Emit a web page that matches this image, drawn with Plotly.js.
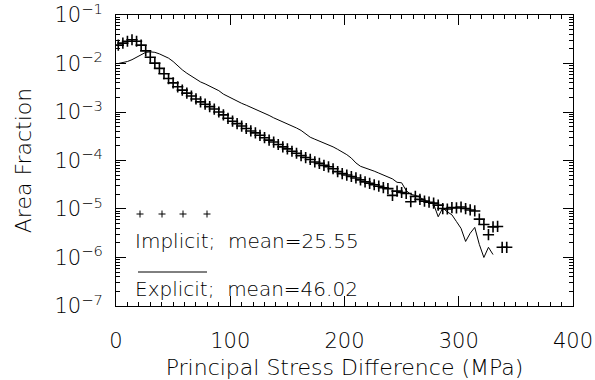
<!DOCTYPE html>
<html>
<head>
<meta charset="utf-8">
<script src="https://cdn.plot.ly/plotly-3.0.1.min.js"></script>
<style>html,body{margin:0;padding:0;background:#fff;}#chart{width:595px;height:380px;}</style>
</head>
<body>
<div id="chart"></div>
<script>
// Principal stress difference bin centres (MPa)
const xImplicit = [2,6,10,14,18,22,26,30,34,38,42,46,50,54,58,62,66,70,74,78,82,86,90,94,98,102,106,110,114,118,122,126,130,134,138,142,146,150,154,158,162,166,170,174,178,182,186,190,194,198,202,206,210,214,218,222,226,230,234,238,242,246,250,254,258,262,266,270,274,278,282,286,290,294,298,302,306,310,314,318,322,326,330,334,338,342];
const yImplicit = [2.40e-2,2.63e-2,2.88e-2,3.09e-2,2.88e-2,2.40e-2,1.82e-2,1.35e-2,1.02e-2,7.94e-3,6.17e-3,4.90e-3,3.98e-3,3.31e-3,2.82e-3,2.45e-3,2.14e-3,1.86e-3,1.62e-3,1.45e-3,1.29e-3,1.15e-3,1.00e-3,8.71e-4,7.41e-4,6.46e-4,5.75e-4,5.13e-4,4.57e-4,4.07e-4,3.72e-4,3.31e-4,2.95e-4,2.63e-4,2.40e-4,2.14e-4,1.91e-4,1.74e-4,1.55e-4,1.41e-4,1.26e-4,1.15e-4,1.05e-4,9.33e-5,8.71e-5,7.94e-5,7.41e-5,6.76e-5,5.89e-5,5.37e-5,5.01e-5,4.68e-5,4.37e-5,3.98e-5,3.63e-5,3.39e-5,3.16e-5,2.95e-5,2.75e-5,2.63e-5,1.91e-5,2.34e-5,2.19e-5,2.09e-5,1.41e-5,1.82e-5,1.58e-5,1.45e-5,1.38e-5,1.32e-5,1.20e-5,1.02e-5,1.00e-5,1.07e-5,1.05e-5,1.10e-5,1.02e-5,9.55e-6,9.12e-6,6.17e-6,4.79e-6,2.95e-6,4.27e-6,4.37e-6,1.62e-6,1.62e-6];

const xExplicit = [2,6,10,14,18,22,26,30,34,38,42,46,50,54,58,62,66,70,74,78,82,86,90,94,98,102,106,110,114,118,122,126,130,134,138,142,146,150,154,158,162,166,170,174,178,182,186,190,194,198,202,206,210,214,218,222,226,230,234,238,242,246,250,254,258,262,266,270,274,278,282,286,290,294,298,302,306,310,314,318,322,326,330];
const yExplicit = [1.00e-2,1.05e-2,1.10e-2,1.20e-2,1.35e-2,1.55e-2,1.70e-2,1.74e-2,1.70e-2,1.58e-2,1.45e-2,1.29e-2,1.10e-2,8.91e-3,7.41e-3,6.31e-3,5.50e-3,4.79e-3,4.17e-3,3.80e-3,3.39e-3,3.09e-3,2.75e-3,2.34e-3,2.09e-3,1.86e-3,1.66e-3,1.51e-3,1.38e-3,1.26e-3,1.15e-3,1.05e-3,9.33e-4,8.51e-4,7.59e-4,6.92e-4,6.17e-4,5.62e-4,5.13e-4,4.68e-4,4.17e-4,3.55e-4,3.02e-4,2.75e-4,2.51e-4,2.34e-4,2.14e-4,1.91e-4,1.70e-4,1.51e-4,1.32e-4,1.12e-4,8.91e-5,7.59e-5,7.08e-5,6.61e-5,6.03e-5,5.50e-5,5.01e-5,4.57e-5,4.17e-5,3.55e-5,3.47e-5,2.40e-5,2.00e-5,1.91e-5,1.74e-5,1.51e-5,1.38e-5,1.26e-5,6.92e-6,1.05e-5,8.71e-6,7.59e-6,5.50e-6,3.98e-6,2.14e-6,3.16e-6,4.17e-6,1.86e-6,1.00e-6,1.62e-6,1.15e-6];

const xTickVals = [0,100,200,300,400];
const xTickText = ['0','100','200','300','400'];
const yTickVals = [1e-7,1e-6,1e-5,1e-4,1e-3,1e-2,1e-1];
const yExponents = ['−7','−6','−5','−4','−3','−2','−1'];
const yMinorTicks = [2e-7,3e-7,4e-7,5e-7,6e-7,7e-7,8e-7,9e-7,2e-6,3e-6,4e-6,5e-6,6e-6,7e-6,8e-6,9e-6,2e-5,3e-5,4e-5,5e-5,6e-5,7e-5,8e-5,9e-5,2e-4,3e-4,4e-4,5e-4,6e-4,7e-4,8e-4,9e-4,2e-3,3e-3,4e-3,5e-3,6e-3,7e-3,8e-3,9e-3,2e-2,3e-2,4e-2,5e-2,6e-2,7e-2,8e-2,9e-2];

const labelImplicit = 'Implicit;  mean=25.55';
const labelExplicit = 'Explicit;  mean=46.02';

const FONT = 'DejaVu Sans, sans-serif';
const INK = '#000';
const yTickText = yExponents.map(e => '10<sup>' + e + '</sup>');

const traces = [
  {x: xExplicit, y: yExplicit, type: 'scatter', mode: 'lines',
   line: {color: '#000', width: 1}, showlegend: false},
  {x: xImplicit, y: yImplicit, type: 'scatter', mode: 'markers',
   marker: {symbol: 'cross-thin', size: 8, color: '#000', line: {color: '#000', width: 1.6}},
   showlegend: false}
];

// legend sample glyphs in paper coordinates
const W = 457, H = 291;
function plusPath(px, py, s){
  const cx = px / W, cy = py / H, dx = s / W, dy = s / H;
  return {type: 'path', xref: 'paper', yref: 'paper',
    path: `M${cx-dx},${cy} L${cx+dx},${cy} M${cx},${cy-dy} L${cx},${cy+dy}`,
    line: {color: '#000', width: 1}};
}
const shapes = [
  plusPath(24, 92, 3.5), plusPath(46, 92, 3.5), plusPath(67, 92, 3.5), plusPath(91, 92, 3.5),
  {type: 'line', xref: 'paper', yref: 'paper', x0: 22/W, x1: 91/W, y0: 34/H, y1: 34/H,
   line: {color: '#000', width: 1}}
];

const layout = {
  width: 595, height: 380,
  margin: {l: 116, r: 22, t: 15, b: 74},
  paper_bgcolor: '#fff', plot_bgcolor: '#fff',
  font: {family: FONT, color: INK, size: 20, weight: 200},
  xaxis: {
    range: [0, 400], tickvals: xTickVals, ticktext: xTickText,
    ticks: 'inside', ticklen: 10, tickwidth: 1, tickcolor: '#000',
    minor: {dtick: 10, ticks: 'inside', ticklen: 4, tickcolor: '#000', tickwidth: 1},
    showline: true, linecolor: '#000', linewidth: 1, mirror: 'ticks',
    showgrid: false, zeroline: false, ticklabeloverflow: 'allow',
    tickfont: {family: FONT, size: 21, color: INK, weight: 200},
    ticklabelstandoff: 16,
    title: {text: 'Principal Stress Difference (MPa)', font: {family: FONT, size: 22, color: INK, weight: 200}, standoff: 10}
  },
  yaxis: {
    type: 'log', range: [-7.0005, -0.9995], tickmode: 'array', tickvals: yTickVals, ticktext: yTickText,
    ticks: 'inside', ticklen: 10, tickwidth: 1, tickcolor: '#000',
    minor: {tickmode: 'array', tickvals: yMinorTicks, ticks: 'inside', ticklen: 4, tickcolor: '#000', tickwidth: 1},
    showline: true, linecolor: '#000', linewidth: 1, mirror: 'ticks',
    showgrid: false, zeroline: false, ticklabeloverflow: 'allow',
    tickfont: {family: FONT, size: 21, color: INK, weight: 200},
    ticklabelstandoff: 8,
    title: {text: 'Area Fraction', font: {family: FONT, size: 22, color: INK, weight: 200}, standoff: 16}
  },
  shapes: shapes,
  annotations: [
    {xref: 'paper', yref: 'paper', x: 17/W, y: 65/H, xanchor: 'left', yanchor: 'middle',
     text: labelImplicit, showarrow: false, font: {family: FONT, size: 20, color: INK, weight: 200}},
    {xref: 'paper', yref: 'paper', x: 17/W, y: 17/H, xanchor: 'left', yanchor: 'middle',
     text: labelExplicit, showarrow: false, font: {family: FONT, size: 20, color: INK, weight: 200}}
  ],
  showlegend: false
};

Plotly.newPlot('chart', traces, layout, {staticPlot: true, displayModeBar: false});
</script>
</body>
</html>
